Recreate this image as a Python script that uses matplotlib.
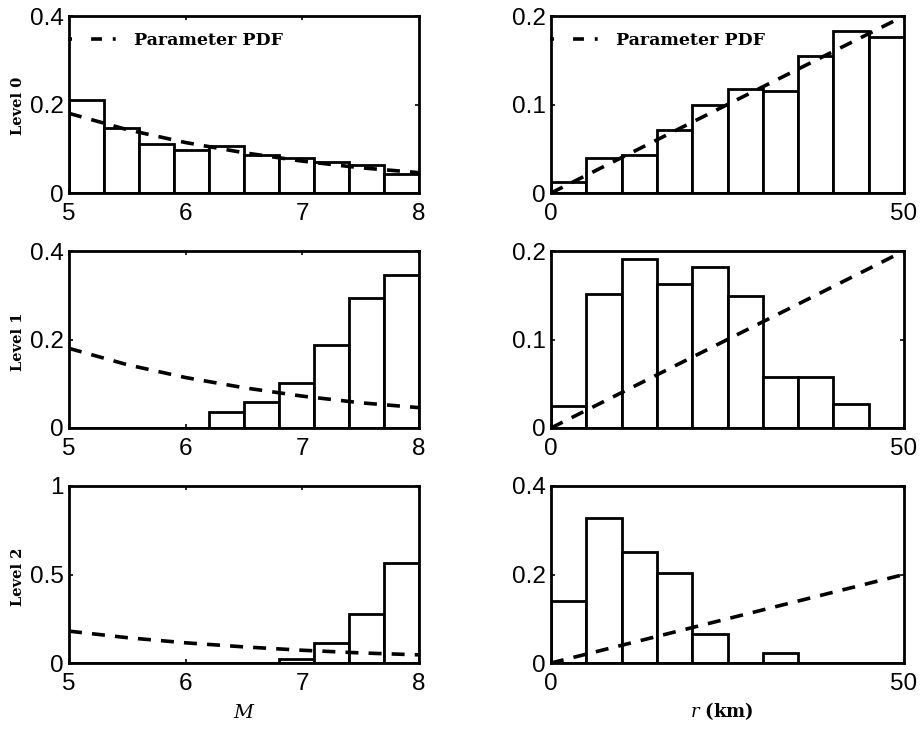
import numpy as np
import matplotlib
matplotlib.use("Agg")
import matplotlib.pyplot as plt
from matplotlib.lines import Line2D

plt.rcParams["mathtext.fontset"] = "dejavuserif"

# --- magnitude histograms (10 bins from M=5 to M=8) ---
m_edges = [5.0, 5.3, 5.6, 5.9, 6.2, 6.5, 6.8, 7.1, 7.4, 7.7, 8.0]
m_level0 = [0.211, 0.146, 0.110, 0.097, 0.106, 0.085, 0.078, 0.069, 0.064, 0.043]
m_level1 = [0.0, 0.0, 0.0, 0.0, 0.037, 0.059, 0.101, 0.188, 0.293, 0.345]
m_level2 = [0.0, 0.0, 0.0, 0.0, 0.0, 0.0, 0.022, 0.113, 0.276, 0.564]

# parameter PDF of magnitude (probability per bin)
m_pdf_x = [5.0, 5.5, 6.0, 6.5, 7.0, 7.5, 8.0]
m_pdf_y = [0.180, 0.143, 0.114, 0.091, 0.072, 0.057, 0.046]

# --- distance histograms (10 bins from 0 to 50 km) ---
r_edges = [0, 5, 10, 15, 20, 25, 30, 35, 40, 45, 50]
r_level0 = [0.0125, 0.039, 0.043, 0.071, 0.099, 0.118, 0.115, 0.155, 0.183, 0.176]
r_level1 = [0.025, 0.151, 0.191, 0.163, 0.182, 0.149, 0.058, 0.058, 0.027, 0.0]
r_level2 = [0.140, 0.328, 0.250, 0.203, 0.065, 0.0, 0.022, 0.0, 0.0, 0.0]

# parameter PDF of distance (probability per bin)
r_pdf_x = [0, 10, 20, 30, 40, 50]
r_pdf_y = [0.0, 0.04, 0.08, 0.12, 0.16, 0.20]

level_labels = ["Level 0", "Level 1", "Level 2"]
m_ylims = [(0, 0.4), (0, 0.4), (0, 1)]
m_yticks = [[0, 0.2, 0.4], [0, 0.2, 0.4], [0, 0.5, 1]]
m_yticklabels = [["0", "0.2", "0.4"], ["0", "0.2", "0.4"], ["0", "0.5", "1"]]
r_ylims = [(0, 0.2), (0, 0.2), (0, 0.4)]
r_yticks = [[0, 0.1, 0.2], [0, 0.1, 0.2], [0, 0.2, 0.4]]
r_yticklabels = [["0", "0.1", "0.2"], ["0", "0.1", "0.2"], ["0", "0.2", "0.4"]]

W, H = 922, 730
fig = plt.figure(figsize=(W / 100, H / 100), dpi=100)

TICK_FAMILY = "Liberation Sans"
TICK_SIZE = 17.5
DASHES = (3.6, 2.8)

row_tops = [16, 251, 486]
ax_h = 177
left_x = (69, 419)
right_x = (551, 904)


def make_axes(xr, top):
    return fig.add_axes([xr[0] / W, 1 - (top + ax_h) / H,
                         (xr[1] - xr[0]) / W, ax_h / H])


def style(ax):
    for s in ax.spines.values():
        s.set_linewidth(2.0)
    ax.tick_params(direction="in", length=3, width=1.2, top=True, right=True)
    ax.tick_params(axis="x", pad=7)
    ax.tick_params(axis="y", pad=4)
    for lab in ax.get_xticklabels() + ax.get_yticklabels():
        lab.set_fontfamily(TICK_FAMILY)
        lab.set_fontsize(TICK_SIZE)


def draw_hist(ax, edges, heights):
    edges = np.asarray(edges, dtype=float)
    widths = np.diff(edges)
    ax.bar(edges[:-1], heights, width=widths, align="edge",
           facecolor="white", edgecolor="black", linewidth=2.0, zorder=2)


def add_legend(ax):
    # short legend sample: the dash pattern is cut off, leaving "- - ."
    handle = Line2D([], [], color="black", lw=2.6,
                    dashes=(1.1, 5.3, 3.0, 3.0, 0.8, 12))
    ax.legend([handle], ["Parameter PDF"], loc="center left",
              bbox_to_anchor=(-0.003, 0.86),
              frameon=False, handlelength=2.9, handletextpad=0.9,
              borderaxespad=0, borderpad=0,
              prop=dict(family="DejaVu Serif", weight="bold", size=12.5))


m_sets = [m_level0, m_level1, m_level2]
r_sets = [r_level0, r_level1, r_level2]

for i in range(3):
    # magnitude column
    ax = make_axes(left_x, row_tops[i])
    draw_hist(ax, m_edges, m_sets[i])
    ax.plot(m_pdf_x, m_pdf_y, color="black", lw=2.6, dashes=DASHES,
            zorder=3)
    ax.set_xlim(5, 8)
    ax.set_ylim(*m_ylims[i])
    ax.set_xticks([5, 6, 7, 8])
    ax.set_xticklabels(["5", "6", "7", "8"])
    ax.set_yticks(m_yticks[i])
    ax.set_yticklabels(m_yticklabels[i])
    style(ax)
    ax.set_ylabel(level_labels[i], fontsize=10.5, family="DejaVu Serif",
                  weight="bold")
    ax.yaxis.set_label_coords(-0.125, 0.49)
    if i == 0:
        add_legend(ax)
    if i == 2:
        ax.set_xlabel("$M$", fontsize=14, labelpad=6)

    # distance column
    ax = make_axes(right_x, row_tops[i])
    draw_hist(ax, r_edges, r_sets[i])
    ax.plot(r_pdf_x, r_pdf_y, color="black", lw=2.6, dashes=DASHES,
            zorder=3)
    ax.set_xlim(0, 50)
    ax.set_ylim(*r_ylims[i])
    ax.set_xticks([0, 50])
    ax.set_xticklabels(["0", "50"])
    ax.set_yticks(r_yticks[i])
    ax.set_yticklabels(r_yticklabels[i])
    style(ax)
    if i == 0:
        add_legend(ax)
    if i == 2:
        ax.set_xlabel(r"$r$ (km)", fontsize=13, labelpad=6,
                      family="DejaVu Serif", weight="bold")
        ax.xaxis.set_label_coords(0.485, -0.21)

fig.savefig("out.png", dpi=100)
